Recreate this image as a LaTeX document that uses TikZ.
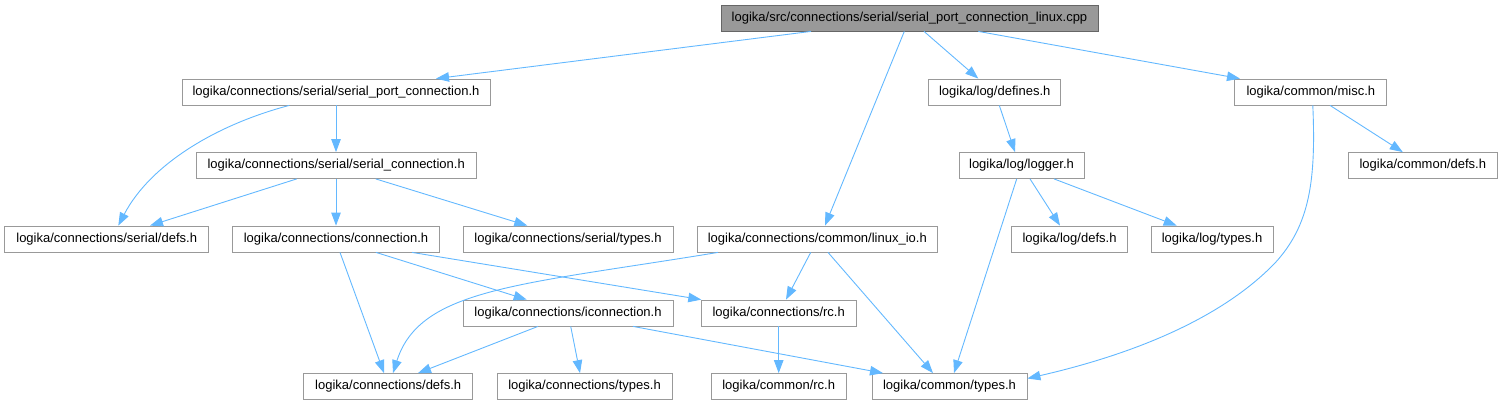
\documentclass[tikz,border=0pt]{standalone}
\usepackage{fontspec}
\setmainfont{Liberation Sans}
\usepackage{tikz}
\usetikzlibrary{positioning, arrows.meta, calc}
\usepackage{xcolor}
\definecolor{edgeblue}{HTML}{63B8FF}
\definecolor{boxgray}{HTML}{999999}
\definecolor{rootgray}{HTML}{666666}

\begin{document}
\begin{tikzpicture}[
  x=1pt, y=-1pt,
  every node/.style={font=\fontsize{13}{15}\selectfont},
  file/.style={draw=boxgray, fill=white, line width=0.8pt, minimum height=26pt, inner sep=0pt},
  root/.style={file, draw=rootgray, fill=boxgray},
  inc/.style={draw=edgeblue, line width=0.9pt, -{Triangle[length=13pt,width=9.5pt]}}
]
\useasboundingbox (0,0) rectangle (1503,405);
\def\hdr#1#2#3#4#5{%
  \node[file, minimum width=#4pt] (#1) at (#2,#3) {#5};
}
\node[root, minimum width=377pt] (cpp) at (909.5,18) {logika/src/connections/serial/serial\_port\_connection\_linux.cpp};
\hdr{spc}{336}{92}{308}{logika/connections/serial/serial\_port\_connection.h}
\hdr{defines}{994.7}{92}{132}{logika/log/defines.h}
\hdr{misc}{1310.8}{92}{152}{logika/common/misc.h}
\hdr{sc}{336.2}{165.5}{280}{logika/connections/serial/serial\_connection.h}
\hdr{logger}{1021.5}{165.5}{125}{logika/log/logger.h}
\hdr{cmdefs}{1422.8}{165.5}{149}{logika/common/defs.h}
\hdr{sdefs}{106.7}{239}{204}{logika/connections/serial/defs.h}
\hdr{conn}{336}{239}{207}{logika/connections/connection.h}
\hdr{stypes}{568}{239}{210}{logika/connections/serial/types.h}
\hdr{linuxio}{817.3}{239}{240}{logika/connections/common/linux\_io.h}
\hdr{ldefs}{1069.5}{239}{116}{logika/log/defs.h}
\hdr{ltypes}{1212}{239}{122}{logika/log/types.h}
\hdr{iconn}{568}{313}{210}{logika/connections/iconnection.h}
\hdr{crc}{778.7}{313}{155}{logika/connections/rc.h}
\hdr{cndefs}{388.2}{386.5}{169}{logika/connections/defs.h}
\hdr{cntypes}{584.5}{386.5}{175}{logika/connections/types.h}
\hdr{cmrc}{778.7}{386.5}{135}{logika/common/rc.h}
\hdr{cmtypes}{949.5}{386.5}{155}{logika/common/types.h}
% straight includes
\foreach \a/\sa/\b/\sb in {cpp/-98.5/spc/100, cpp/-5.2/linuxio/7.7, cpp/14.5/defines/-16.4,
    cpp/68.8/misc/-70.8, spc/0/sc/-0.2, sc/-39.5/sdefs/43.3, sc/-0.2/conn/0,
    sc/39.5/stypes/-40.7, defines/4.6/logger/-6.5, misc/19.2/cmdefs/-20,
    logger/8.5/ldefs/-9.5, logger/32.5/ltypes/-35.3, logger/-4.8/cmtypes/4.5,
    conn/4/cndefs/-4.2, conn/40/iconn/-41.3, linuxio/-6.6/crc/7.3, linuxio/10.7/cmtypes/-16.5,
    iconn/-30/cndefs/29.8, iconn/2.7/cntypes/-4.5, iconn/65/cmtypes/-66.5, crc/0/cmrc/0}
  \draw[inc] ([xshift=\sa pt]\a.south) -- ([xshift=\sb pt]\b.north);
\draw[inc] ([xshift=76pt]conn.south) -- ([xshift=0.5pt]crc.north west);
% curved includes
\draw[inc] ([xshift=-46.7pt]spc.south) .. controls (215,125) and (150,165) .. ([xshift=11.6pt]sdefs.north);
\draw[inc] ([xshift=-99.3pt]linuxio.south) .. controls (520,285) and (420,288) .. ([xshift=4.8pt]cndefs.north);
\draw[inc] ([xshift=2pt]misc.south) .. controls (1316,180) and (1310,225) .. (1275,263)
  .. controls (1220,320) and (1130,355) .. ([yshift=8pt]cmtypes.east);
\end{tikzpicture}
\end{document}
